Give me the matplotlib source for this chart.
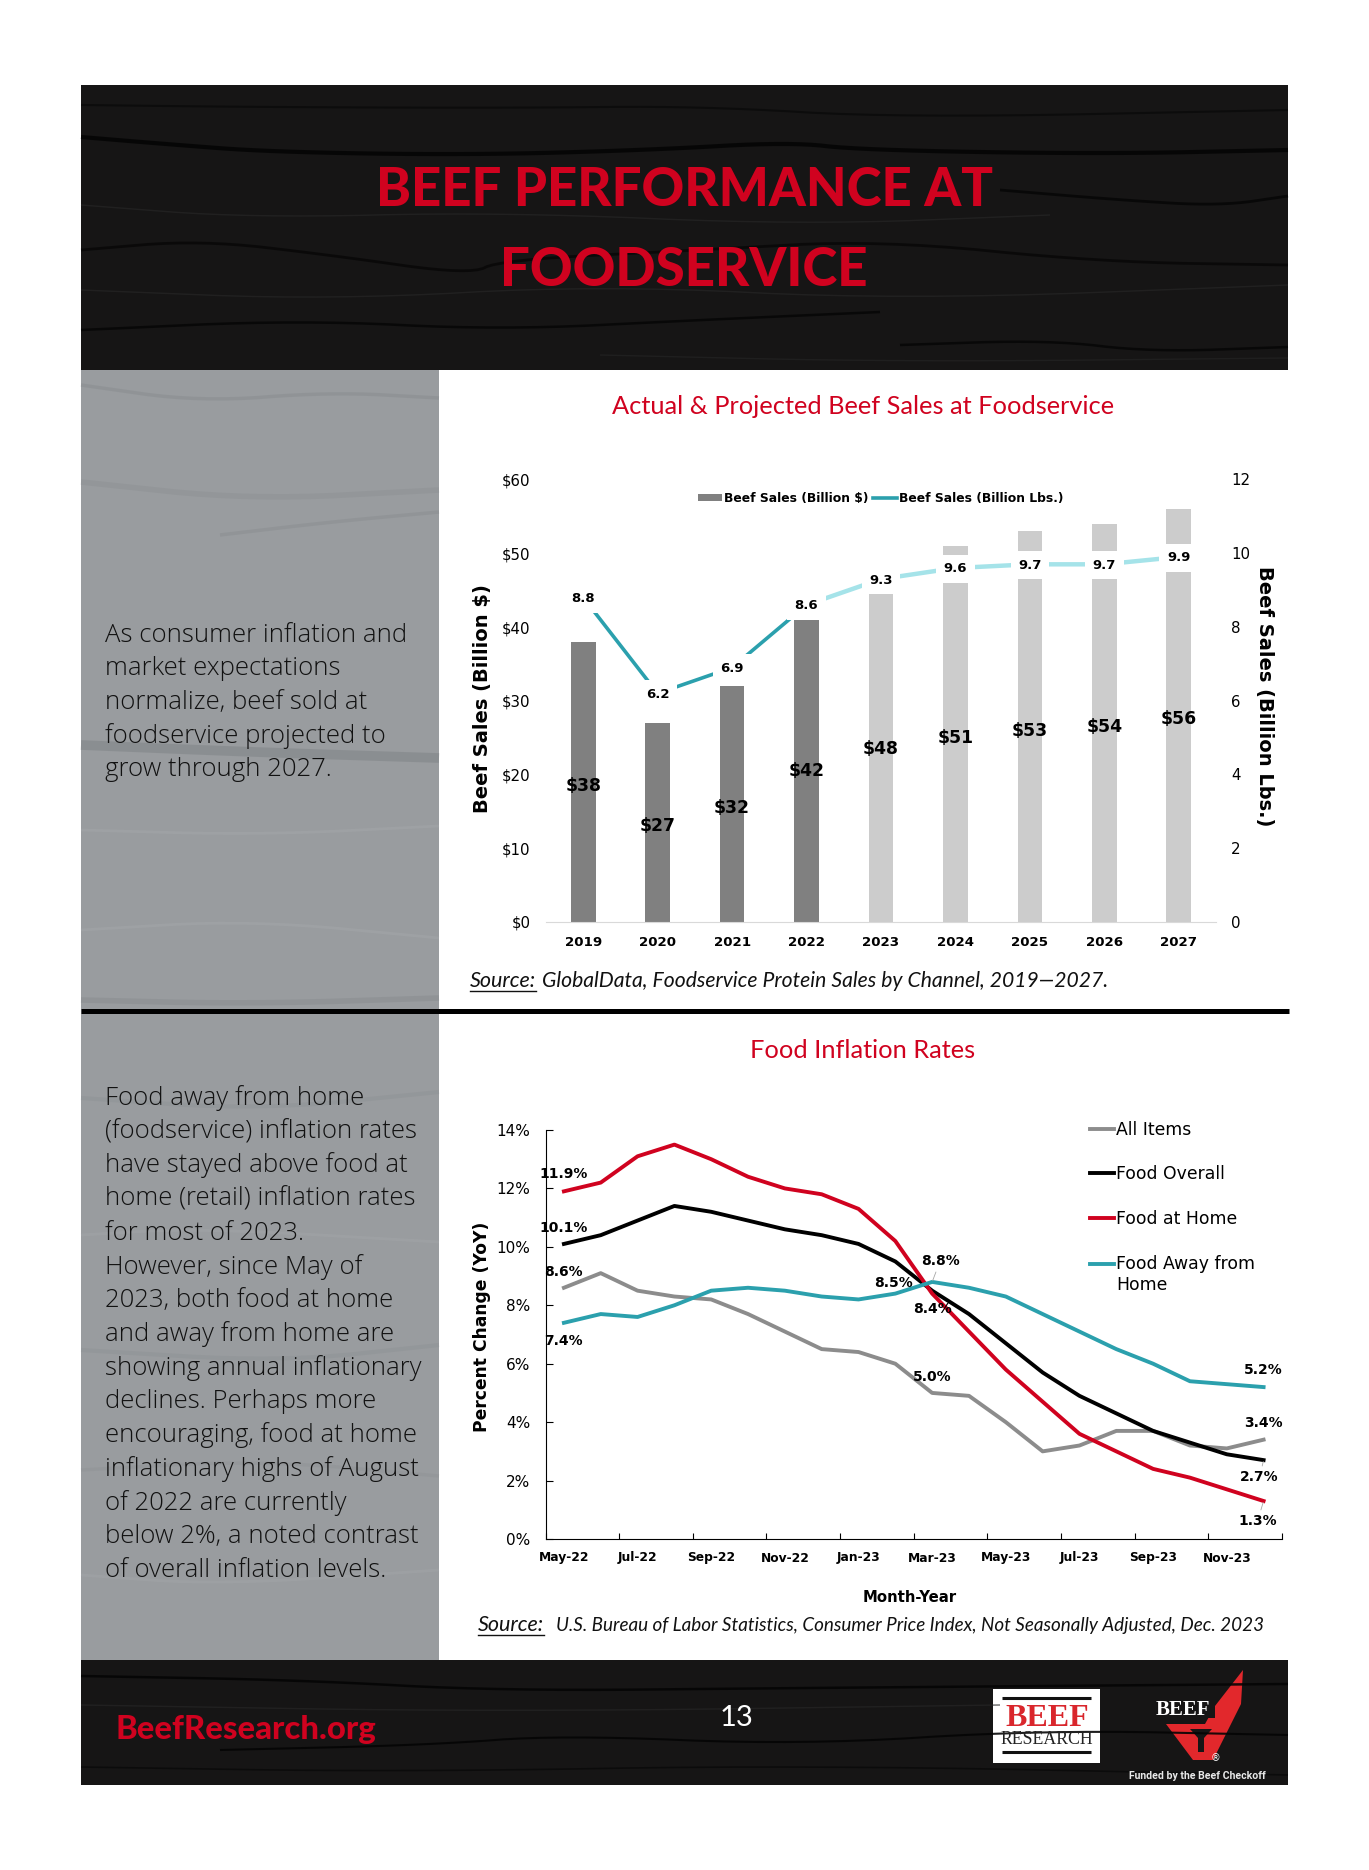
import matplotlib
matplotlib.use("Agg")
import matplotlib.pyplot as plt
from matplotlib.patches import Rectangle, Polygon
from matplotlib.lines import Line2D

years = [2019, 2020, 2021, 2022, 2023, 2024, 2025, 2026, 2027]
sales_usd = [38, 27, 32, 42, 48, 51, 53, 54, 56]
sales_lbs = [8.8, 6.2, 6.9, 8.6, 9.3, 9.6, 9.7, 9.7, 9.9]

months = ["May-22", "Jun-22", "Jul-22", "Aug-22", "Sep-22", "Oct-22", "Nov-22", "Dec-22", "Jan-23", "Feb-23",
          "Mar-23", "Apr-23", "May-23", "Jun-23", "Jul-23", "Aug-23", "Sep-23", "Oct-23", "Nov-23", "Dec-23"]
all_items = [8.6, 9.1, 8.5, 8.3, 8.2, 7.7, 7.1, 6.5, 6.4, 6.0, 5.0, 4.9, 4.0, 3.0, 3.2, 3.7, 3.7, 3.2, 3.1, 3.4]
food_overall = [10.1, 10.4, 10.9, 11.4, 11.2, 10.9, 10.6, 10.4, 10.1, 9.5, 8.5, 7.7, 6.7, 5.7, 4.9, 4.3, 3.7, 3.3, 2.9, 2.7]
food_home = [11.9, 12.2, 13.1, 13.5, 13.0, 12.4, 12.0, 11.8, 11.3, 10.2, 8.4, 7.1, 5.8, 4.7, 3.6, 3.0, 2.4, 2.1, 1.7, 1.3]
food_away = [7.4, 7.7, 7.6, 8.0, 8.5, 8.6, 8.5, 8.3, 8.2, 8.4, 8.8, 8.6, 8.3, 7.7, 7.1, 6.5, 6.0, 5.4, 5.3, 5.2]

text_top = ["As consumer inflation and", "market expectations", "normalize, beef sold at",
            "foodservice projected to", "grow through 2027."]
text_bottom = ["Food away from home", "(foodservice) inflation rates", "have stayed above food at",
               "home (retail) inflation rates", "for most of 2023.", "However, since May of",
               "2023, both food at home", "and away from home are", "showing annual inflationary",
               "declines. Perhaps more", "encouraging, food at home", "inflationary highs of August",
               "of 2022 are currently", "below 2%, a noted contrast", "of overall inflation levels."]

W, H = 1369, 1870
RED = "#d0021f"
TEAL = "#2ba0ad"
SANS = "Lato"
BODY = "Open Sans"
CHART = "DejaVu Sans"

fig = plt.figure(figsize=(W / 100, H / 100), dpi=100, facecolor="white")

# page layer in pixel coordinates, for the panels and logos
page = fig.add_axes([0, 0, 1, 1])
page.set_xlim(0, W)
page.set_ylim(H, 0)
page.axis("off")


def panel(x0, y0, x1, y1, color):
    page.add_patch(Rectangle((x0, y0), x1 - x0, y1 - y0, fc=color, ec="none"))


def grain(points, color, alpha, lw):
    # round the corners so the streaks read as wood and not as polylines
    for _ in range(3):
        smooth = [points[0]]
        for a, b in zip(points[:-1], points[1:]):
            smooth.append((0.75 * a[0] + 0.25 * b[0], 0.75 * a[1] + 0.25 * b[1]))
            smooth.append((0.25 * a[0] + 0.75 * b[0], 0.25 * a[1] + 0.75 * b[1]))
        smooth.append(points[-1])
        points = smooth
    page.plot([p[0] for p in points], [p[1] for p in points], color=color, alpha=alpha, lw=lw,
              solid_capstyle="butt", solid_joinstyle="round")


panel(81, 85, 1288, 370, "#161515")
panel(81, 370, 439, 1660, "#999c9f")
panel(81, 1660, 1288, 1785, "#161515")

# wood grain, header
grain([(81, 137), (165, 144), (270, 152), (470, 155), (650, 150), (790, 142), (860, 150), (1100, 154), (1288, 150)], "#050505", 0.9, 3)
grain([(81, 105), (250, 107), (510, 108), (700, 106), (900, 118), (1288, 110)], "#060606", 0.6, 1.5)
grain([(1000, 190), (1120, 200), (1220, 206), (1288, 196)], "#050505", 0.8, 2)
grain([(81, 250), (200, 240), (330, 255), (470, 275), (500, 260), (700, 250), (880, 240), (1100, 262), (1288, 265)], "#050505", 0.7, 2)
grain([(81, 330), (300, 320), (500, 330), (700, 320), (880, 312)], "#050505", 0.8, 1.8)
grain([(900, 345), (1050, 340), (1150, 352), (1288, 347)], "#050505", 0.8, 1.8)
grain([(81, 205), (250, 218), (500, 212), (800, 225), (1050, 215)], "#262626", 0.7, 1)
grain([(81, 290), (330, 300), (600, 285), (900, 300), (1288, 285)], "#262626", 0.7, 1)
grain([(600, 355), (900, 362), (1288, 358)], "#262626", 0.6, 1)

# wood grain, side panel
grain([(81, 385), (200, 402), (330, 392), (439, 398)], "#868a8d", 0.45, 2.5)
grain([(81, 482), (250, 500), (439, 490)], "#888c8f", 0.35, 4)
grain([(220, 535), (330, 522), (439, 512)], "#85898c", 0.4, 2.5)
grain([(81, 745), (250, 752), (439, 758)], "#85898c", 0.7, 7)
grain([(81, 830), (260, 835), (439, 826)], "#a6a9ac", 0.4, 2)
grain([(81, 930), (250, 920), (439, 938)], "#a6a9ac", 0.4, 2)
grain([(81, 1000), (250, 1004), (439, 998)], "#8a8e91", 0.6, 4)
grain([(81, 1098), (260, 1110), (439, 1092)], "#8a8e91", 0.35, 3)
grain([(81, 1235), (200, 1228), (439, 1242)], "#a6a9ac", 0.35, 2)
grain([(81, 1350), (280, 1362), (439, 1345)], "#8a8e91", 0.35, 3)
grain([(81, 1470), (260, 1460), (439, 1476)], "#8a8e91", 0.3, 2.5)
grain([(81, 1575), (220, 1585), (439, 1570)], "#a6a9ac", 0.35, 2)

# wood grain, footer
grain([(81, 1676), (300, 1680), (500, 1691), (800, 1688), (1288, 1684)], "#050505", 0.9, 1.8)
grain([(220, 1750), (430, 1745), (560, 1735), (800, 1745), (1040, 1730), (1288, 1735)], "#050505", 0.9, 1.5)
grain([(81, 1767), (400, 1772), (800, 1765), (1288, 1775)], "#050505", 0.6, 1.2)
grain([(81, 1705), (500, 1712), (1000, 1705)], "#262626", 0.7, 1)

page.plot([81, 1289], [1011, 1011], color="black", lw=3.6, solid_capstyle="butt")

# header and panel text
page.text(684, 191, "BEEF PERFORMANCE AT", color=RED, fontsize=38, fontweight="black", family=SANS, ha="center", va="center")
page.text(684, 271, "FOODSERVICE", color=RED, fontsize=38, fontweight="black", family=SANS, ha="center", va="center")
page.text(863, 407, "Actual & Projected Beef Sales at Foodservice", color=RED, fontsize=18.3, family=SANS, ha="center", va="center")
page.text(863, 1051, "Food Inflation Rates", color=RED, fontsize=18.3, family=SANS, ha="center", va="center")

for i, line in enumerate(text_top):
    page.text(105, 635 + i * 33.6, line, color="#111111", fontsize=18.5, family=BODY, fontweight="light", ha="left", va="center")
for i, line in enumerate(text_bottom):
    page.text(105, 1098 + i * 33.75, line, color="#111111", fontsize=18.5, family=BODY, fontweight="light", ha="left", va="center")


def source(x, y, rest, gap, size):
    lab = page.text(x, y, "Source:", fontsize=15.5, style="italic", family=SANS, color="#111111", va="center")
    page.text(x + gap, y, rest, fontsize=size, style="italic", family=SANS, color="#111111", va="center")
    box = lab.get_window_extent(fig.canvas.get_renderer())
    page.plot([box.x0, box.x1], [y + 10, y + 10], color="#111111", lw=1)


source(470, 981, "GlobalData, Foodservice Protein Sales by Channel, 2019\u20142027.", 72, 15.2)
source(478, 1625, "U.S. Bureau of Labor Statistics, Consumer Price Index, Not Seasonally Adjusted, Dec. 2023", 78, 13.6)

# footer
page.text(116, 1729, "BeefResearch.org", color=RED, fontsize=23.7, fontweight="black", family=SANS, ha="left", va="center")
page.text(736, 1718, "13", color="white", fontsize=21, family=SANS, ha="center", va="center")

panel(993, 1689, 1100, 1763, "white")
page.plot([1002, 1091], [1698, 1698], color="#111111", lw=2.2, solid_capstyle="butt")
page.plot([1002, 1091], [1752, 1752], color="#111111", lw=2.2, solid_capstyle="butt")
page.text(1047, 1718, "BEEF", color="#d9262c", fontsize=23, fontweight="bold", family="Liberation Serif", ha="center", va="center")
page.text(1047, 1740, "RESEARCH", color="#222222", fontsize=12.8, family="Liberation Serif", ha="center", va="center")
page.add_patch(Polygon([(1166, 1724), (1205, 1724), (1215, 1706), (1243, 1670), (1241, 1704), (1213, 1760), (1193, 1760)],
                       closed=True, fc="#e2282c", ec="none"))
page.add_patch(Polygon([(1190, 1729), (1212, 1729), (1204, 1738), (1204, 1752), (1198, 1752), (1198, 1738)],
                       closed=True, fc="#161515", ec="none"))
page.add_patch(Rectangle((1153, 1692), 62, 26, fc="#161515", ec="none"))
page.text(1183, 1710, "BEEF", color="white", fontsize=15, fontweight="bold", family="Liberation Serif", ha="center", va="center")
page.text(1215, 1758, "\u00ae", color="white", fontsize=7, ha="center", va="center")
page.text(1197, 1776, "Funded by the Beef Checkoff", color="#e8e8e8", fontsize=7.6, fontweight="bold", family="Roboto", ha="center", va="center")


def axes_px(x0, y0, x1, y1):
    return fig.add_axes([x0 / W, 1 - y1 / H, (x1 - x0) / W, (y1 - y0) / H])


# top chart
ax = axes_px(546, 479.5, 1216, 922)
ax.patch.set_alpha(0)
x = list(range(len(years)))
bar_cols = ["#808080"] * 4 + ["#cccccc"] * 5
bars = ax.bar(x, sales_usd, width=0.33, color=bar_cols)
ax.set_xlim(-0.5, 8.5)
ax.set_ylim(0, 60)
ax.set_yticks(range(0, 61, 10))
ax.set_yticklabels(["$%d" % v for v in range(0, 61, 10)], fontsize=10.8, family=CHART)
ax.set_xticks(x)
ax.set_xticklabels(years, fontsize=9.6, fontweight="bold", family=CHART)
ax.tick_params(length=0)
ax.tick_params(axis="x", pad=10)
ax.tick_params(axis="y", pad=11)
for s in ["top", "left", "right"]:
    ax.spines[s].set_visible(False)
ax.spines["bottom"].set_color("#d9d9d9")
ax.set_ylabel("Beef Sales (Billion $)", fontsize=14, fontweight="bold", family=CHART)
ax.yaxis.set_label_coords(-0.08, 0.505)
for i, v in enumerate(sales_usd):
    ax.annotate("$%d" % v, xy=(i, v / 2), xytext=(0, -4), textcoords="offset pixels", fontsize=12.4, fontweight="bold",
                family=CHART, ha="center", va="center", zorder=6)

ax2 = ax.twinx()
ax2.set_ylim(0, 12)
ax2.set_yticks(range(0, 13, 2))
ax2.set_yticklabels(range(0, 13, 2), fontsize=10.8, family=CHART)
ax2.tick_params(length=0, pad=11)
for s in ax2.spines.values():
    s.set_visible(False)
ax2.plot(x[:4], sales_lbs[:4], color=TEAL, lw=2.6, zorder=3)
ax2.plot(x[3:], sales_lbs[3:], color="#a5e3e9", lw=3.2, zorder=3)
for i, v in enumerate(sales_lbs):
    ax2.annotate("%.1f" % v, xy=(i, v), xytext=(0, -1), textcoords="offset pixels", fontsize=9.5, fontweight="bold",
                 family=CHART, ha="center", va="center", zorder=5, bbox=dict(fc="white", ec="none", pad=5.5))
ax2.set_ylabel("Beef Sales (Billion Lbs.)", fontsize=14, fontweight="bold", family=CHART, rotation=270, va="center")
ax2.yaxis.set_label_coords(1.072, 0.511)
handles = [Rectangle((0, 0), 1, 1, fc="#808080"), Line2D([0], [0], color=TEAL, lw=2.6)]
leg = ax2.legend(handles, ["Beef Sales (Billion $)", "Beef Sales (Billion Lbs.)"], ncol=2, frameon=False,
                 loc="center", bbox_to_anchor=(0.5, 0.958), prop=dict(family=CHART, size=8.9, weight="bold"),
                 handlelength=1.9, handletextpad=0.2, columnspacing=0.4, handleheight=0.5)

# bottom chart
bx = axes_px(545.5, 1130, 1282, 1539)
bx.patch.set_alpha(0)
m = list(range(len(months)))
bx.plot(m, all_items, color="#8c8c8c", lw=2.8, label="All Items")
bx.plot(m, food_overall, color="black", lw=2.8, label="Food Overall")
bx.plot(m, food_home, color="#d0021f", lw=2.8, label="Food at Home")
bx.plot(m, food_away, color=TEAL, lw=2.8, label="Food Away from\nHome")
bx.set_xlim(-0.5, 19.5)
bx.set_ylim(0, 14)
bx.set_yticks(range(0, 15, 2))
bx.set_yticklabels(["%d%%" % v for v in range(0, 15, 2)], fontsize=11, family=CHART)
bx.set_xticks(m[::2])
bx.set_xticklabels(months[::2], fontsize=8.8, fontweight="bold", family=CHART)
bx.set_xticks([i - 0.5 for i in m[::2]] + [19.5], minor=True)
bx.tick_params(axis="x", which="major", length=0, pad=9)
bx.tick_params(axis="x", which="minor", length=4, direction="in", width=0.8)
bx.tick_params(axis="y", length=5, direction="in", width=0.8, pad=11)
for s in ["top", "right"]:
    bx.spines[s].set_visible(False)
bx.set_ylabel("Percent Change (YoY)", fontsize=12.3, fontweight="bold", family=CHART)
bx.yaxis.set_label_coords((491 - 545.5) / 736.5, 0.52)
bx.set_xlabel("Month-Year", fontsize=10.7, fontweight="bold", family=CHART)
bx.xaxis.set_label_coords((910 - 545.5) / 736.5, -(1590 - 1539) / 409)

callouts = [(food_home, 0, 0, 17, False), (food_overall, 0, 0, 16, False), (all_items, 0, 0, 16, False),
            (food_away, 0, 0, -18, False), (food_overall, 10, -39, 8, False), (food_away, 10, 8, 21, True),
            (food_home, 10, 0, -15, False), (all_items, 10, 0, 16, False), (food_away, 19, 0, 17, False),
            (all_items, 19, 0, 17, False), (food_overall, 19, -4, -17, True), (food_home, 19, -6, -20, True)]
for series, i, dx, dy, lead in callouts:
    arrow = dict(arrowstyle="-", color="#a6a6a6", lw=0.6, shrinkA=1, shrinkB=1) if lead else None
    bx.annotate("%.1f%%" % series[i], xy=(i, series[i]), xytext=(dx, dy), textcoords="offset pixels",
                fontsize=10, fontweight="bold", family=CHART, ha="center", va="center", arrowprops=arrow, zorder=6)

leg2 = bx.legend(loc="upper left", bbox_to_anchor=((1090 - 545.5) / 736.5, 1.023), frameon=False,
                 prop=dict(family=CHART, size=12.4), handlelength=1.4, handletextpad=0.1, labelspacing=1.56,
                 borderpad=0, borderaxespad=0)
# the handle of the two line entry belongs on its first line
away_handle = leg2.get_lines()[3]
away_handle.set_ydata([y + 8.6 for y in away_handle.get_ydata()])

fig.savefig("out.png", dpi=100)
